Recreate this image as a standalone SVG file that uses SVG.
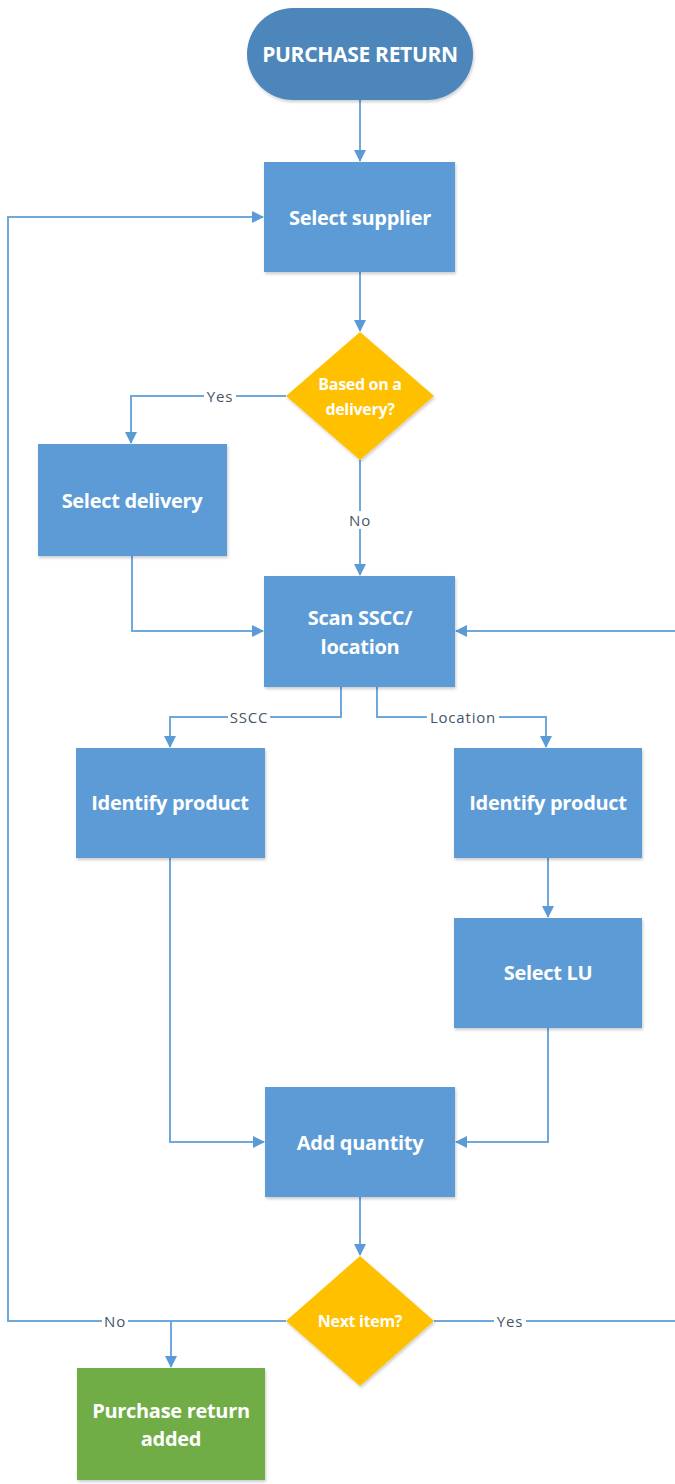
<svg xmlns="http://www.w3.org/2000/svg" width="675" height="1484" viewBox="0 0 675 1484">
<defs>
<marker id="ah" markerWidth="12" markerHeight="12" refX="11" refY="6" orient="auto" markerUnits="userSpaceOnUse">
<path d="M0,0 L12,6 L0,12 Z" fill="#5B9BD5"/>
</marker>
<filter id="sh" x="-10%" y="-10%" width="130%" height="130%">
<feDropShadow dx="1" dy="2" stdDeviation="1.5" flood-color="#000" flood-opacity="0.2"/>
</filter>
</defs>
<style>
.box{fill:#5B9BD5;filter:url(#sh)}
.term{fill:#4E86BA;filter:url(#sh)}
.dia{fill:#FFC000;filter:url(#sh)}
.grn{fill:#70AD47;filter:url(#sh)}
.t{font-family:"Open Sans","Liberation Sans",sans-serif;font-weight:bold;font-size:20px;fill:#fff;text-anchor:middle;dominant-baseline:central;letter-spacing:-0.3px}
.tp{font-size:21px}
.td{font-size:16px}
.e{fill:none;stroke:#6FA8DC;stroke-width:2}
.lb{font-family:"Open Sans","Liberation Sans",sans-serif;font-size:15px;fill:#44546A;text-anchor:middle;dominant-baseline:central;letter-spacing:0.8px}
.lbg{fill:#fff}
</style>
<g id="connectors">
<path class="e" d="M360,100 V161" marker-end="url(#ah)"/>
<path class="e" d="M360,272 V331" marker-end="url(#ah)"/>
<path class="e" d="M286,396 H131 V443" marker-end="url(#ah)"/>
<path class="e" d="M360,460 V575" marker-end="url(#ah)"/>
<path class="e" d="M132,556 V631 H263" marker-end="url(#ah)"/>
<path class="e" d="M675,631 H456" marker-end="url(#ah)"/>
<path class="e" d="M341,687 V717 H170 V747" marker-end="url(#ah)"/>
<path class="e" d="M377,687 V717 H546 V747" marker-end="url(#ah)"/>
<path class="e" d="M548,858 V917" marker-end="url(#ah)"/>
<path class="e" d="M170,858 V1142 H264" marker-end="url(#ah)"/>
<path class="e" d="M548,1028 V1142 H456" marker-end="url(#ah)"/>
<path class="e" d="M360,1197 V1255" marker-end="url(#ah)"/>
<path class="e" d="M286,1321 H8 V217 H263" marker-end="url(#ah)"/>
<path class="e" d="M286,1321 H171 V1367" marker-end="url(#ah)"/>
<path class="e" d="M434,1321 H675"/>
<rect class="lbg" x="204" y="387" width="32" height="18"/>
<text class="lb" x="220" y="396">Yes</text>
<rect class="lbg" x="346" y="511" width="28" height="18"/>
<text class="lb" x="360" y="520">No</text>
<rect class="lbg" x="228" y="708" width="42" height="18"/>
<text class="lb" x="249" y="717">SSCC</text>
<rect class="lbg" x="427" y="708" width="72" height="18"/>
<text class="lb" x="463" y="717">Location</text>
<rect class="lbg" x="102" y="1312" width="26" height="18"/>
<text class="lb" x="115" y="1321">No</text>
<rect class="lbg" x="494" y="1312" width="32" height="18"/>
<text class="lb" x="510" y="1321">Yes</text>
</g>
<g id="start">
<rect class="term" x="247" y="8" width="226" height="92" rx="46"/>
<text class="t tp" x="360" y="54">PURCHASE RETURN</text>
</g>
<g id="select-supplier">
<rect class="box" x="264" y="162" width="191" height="110"/>
<text class="t" x="360" y="217">Select supplier</text>
</g>
<g id="based-on-delivery">
<polygon class="dia" points="360,332 434,396 360,460 286,396"/>
<text class="t td" x="360" y="384">Based on a</text>
<text class="t td" x="360" y="409">delivery?</text>
</g>
<g id="select-delivery">
<rect class="box" x="38" y="444" width="189" height="112"/>
<text class="t" x="132" y="500">Select delivery</text>
</g>
<g id="scan-sscc">
<rect class="box" x="264" y="576" width="191" height="111"/>
<text class="t" x="360" y="617">Scan SSCC/</text>
<text class="t" x="360" y="646">location</text>
</g>
<g id="identify-product-left">
<rect class="box" x="76" y="748" width="189" height="110"/>
<text class="t" x="170" y="802">Identify product</text>
</g>
<g id="identify-product-right">
<rect class="box" x="454" y="748" width="188" height="110"/>
<text class="t" x="548" y="802">Identify product</text>
</g>
<g id="select-lu">
<rect class="box" x="454" y="918" width="188" height="110"/>
<text class="t" x="548" y="972">Select LU</text>
</g>
<g id="add-quantity">
<rect class="box" x="265" y="1087" width="190" height="110"/>
<text class="t" x="360" y="1142">Add quantity</text>
</g>
<g id="next-item">
<polygon class="dia" points="360,1256 434,1321 360,1386 286,1321"/>
<text class="t td" x="360" y="1321">Next item?</text>
</g>
<g id="purchase-return-added">
<rect class="grn" x="77" y="1368" width="188" height="112"/>
<text class="t" x="171" y="1410">Purchase return</text>
<text class="t" x="171" y="1438">added</text>
</g>
</svg>
